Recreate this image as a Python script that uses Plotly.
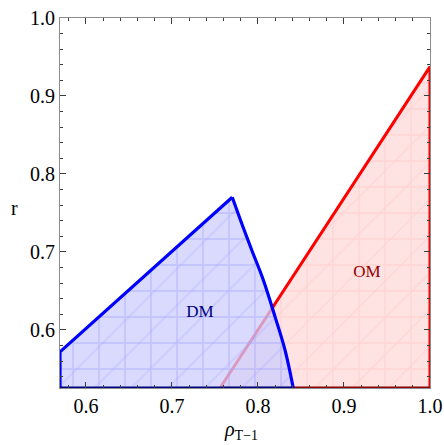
import plotly.graph_objects as go

# Region boundaries
dm_x = [0.5698, 0.5698, 0.7701, 0.7810, 0.7927, 0.8062, 0.8198, 0.8314, 0.8410, 0.5698]
dm_y = [0.5256, 0.5720, 0.7701, 0.7368, 0.7026, 0.6641, 0.6171, 0.5744, 0.5256, 0.5256]

# DM boundary: straight left/upper edge, curved right edge, base
dm_left_x = [0.5698, 0.5698, 0.7701]
dm_left_y = [0.5256, 0.5720, 0.7701]
dm_curve_x = [0.7701, 0.7810, 0.7927, 0.8062, 0.8198, 0.8314, 0.8410]
dm_curve_y = [0.7701, 0.7368, 0.7026, 0.6641, 0.6171, 0.5744, 0.5256]
dm_base_x = [0.5698, 0.8410]

om_x = [0.7558, 1.0, 1.0, 0.7558]
om_y = [0.5256, 0.9376, 0.5256, 0.5256]
om_edge_x = [0.7558, 1.0, 1.0]
om_edge_y = [0.5256, 0.9376, 0.5256]
om_base_x = [0.7558, 1.0]
y_base = 0.5256

labels = ["DM", "OM"]
label_x = [0.7326, 0.9267]
label_y = [0.6218, 0.6740]

x_range = [0.5698, 1.0]
y_range = [0.5256, 1.0]

serif = "Liberation Serif, Times New Roman, serif"

fig = go.Figure()

# OM fill
fig.add_trace(go.Scatter(x=om_x, y=om_y, mode="lines", line=dict(width=0),
                         fill="toself", fillcolor="rgb(255,226,226)", hoverinfo="skip"))
fig.add_trace(go.Scatter(x=om_x, y=om_y, mode="lines", line=dict(width=0),
                         fill="toself",
                         fillpattern=dict(shape="+", size=26, solidity=0.1,
                                          fgcolor="rgb(255,200,200)", bgcolor="rgba(0,0,0,0)"),
                         fillcolor="rgba(0,0,0,0)", hoverinfo="skip"))
fig.add_trace(go.Scatter(x=om_x, y=om_y, mode="lines", line=dict(width=0),
                         fill="toself",
                         fillpattern=dict(shape="/", size=26, solidity=0.06,
                                          fgcolor="rgb(255,205,205)", bgcolor="rgba(0,0,0,0)"),
                         fillcolor="rgba(0,0,0,0)", hoverinfo="skip"))
# OM edges
fig.add_trace(go.Scatter(x=om_edge_x, y=om_edge_y, mode="lines",
                         line=dict(color="rgb(255,0,0)", width=3), hoverinfo="skip"))
fig.add_trace(go.Scatter(x=om_base_x, y=[y_base, y_base], mode="lines",
                         line=dict(color="rgb(140,0,0)", width=3), hoverinfo="skip"))

# DM fill (semi-transparent over OM)
fig.add_trace(go.Scatter(x=dm_x, y=dm_y, mode="lines", line=dict(width=0),
                         fill="toself", fillcolor="rgba(205,205,255,0.75)", hoverinfo="skip"))
fig.add_trace(go.Scatter(x=dm_x, y=dm_y, mode="lines", line=dict(width=0),
                         fill="toself",
                         fillpattern=dict(shape="+", size=26, solidity=0.14,
                                          fgcolor="rgba(165,165,255,0.75)", bgcolor="rgba(0,0,0,0)"),
                         fillcolor="rgba(0,0,0,0)", hoverinfo="skip"))
fig.add_trace(go.Scatter(x=dm_x, y=dm_y, mode="lines", line=dict(width=0),
                         fill="toself",
                         fillpattern=dict(shape="/", size=26, solidity=0.08,
                                          fgcolor="rgba(170,170,255,0.6)", bgcolor="rgba(0,0,0,0)"),
                         fillcolor="rgba(0,0,0,0)", hoverinfo="skip"))
# DM edges
fig.add_trace(go.Scatter(x=dm_left_x, y=dm_left_y, mode="lines",
                         line=dict(color="rgb(0,0,255)", width=3.2), hoverinfo="skip"))
fig.add_trace(go.Scatter(x=dm_curve_x, y=dm_curve_y, mode="lines",
                         line=dict(color="rgb(0,0,255)", width=3.2, shape="spline", smoothing=1.0),
                         hoverinfo="skip"))
fig.add_trace(go.Scatter(x=dm_base_x, y=[y_base, y_base], mode="lines",
                         line=dict(color="rgb(0,0,130)", width=3), hoverinfo="skip"))

# Labels
fig.add_trace(go.Scatter(x=label_x[:1], y=label_y[:1], mode="text", text=labels[:1],
                         textfont=dict(family=serif, size=17, color="rgb(0,0,130)"),
                         hoverinfo="skip"))
fig.add_trace(go.Scatter(x=label_x[1:], y=label_y[1:], mode="text", text=labels[1:],
                         textfont=dict(family=serif, size=17, color="rgb(150,0,0)"),
                         hoverinfo="skip"))

axis_common = dict(
    showgrid=False, zeroline=False, automargin=False,
    showline=True, linecolor="rgb(140,140,140)", linewidth=1, mirror="ticks",
    ticks="inside", ticklen=6, tickwidth=1, tickcolor="rgb(60,60,60)",
    tickfont=dict(family=serif, size=20, color="black"),
    minor=dict(ticks="inside", ticklen=3, dtick=0.02, tickcolor="rgb(60,60,60)"),
)

fig.update_layout(
    width=444, height=445,
    margin=dict(l=60, r=14, t=18, b=57),
    paper_bgcolor="white", plot_bgcolor="white",
    showlegend=False,
    xaxis=dict(range=x_range, dtick=0.1, tickformat=".1f", **axis_common),
    yaxis=dict(range=y_range, dtick=0.1, tickformat=".1f", **axis_common),
    annotations=[
        dict(text="r", xref="paper", yref="paper", x=-0.124, y=0.486,
             showarrow=False, xanchor="center", yanchor="middle",
             font=dict(family=serif, size=20, color="black")),
        dict(text="<i>ρ</i><sub>T−1</sub>", xref="paper", yref="paper", x=0.49, y=-0.115,
             showarrow=False, xanchor="center", yanchor="middle",
             font=dict(family=serif, size=20, color="black")),
    ],
)

fig.write_html(
    "out.html",
    config={"displayModeBar": False},
    post_script="document.body.style.margin='0';document.body.style.overflow='hidden';",
)
